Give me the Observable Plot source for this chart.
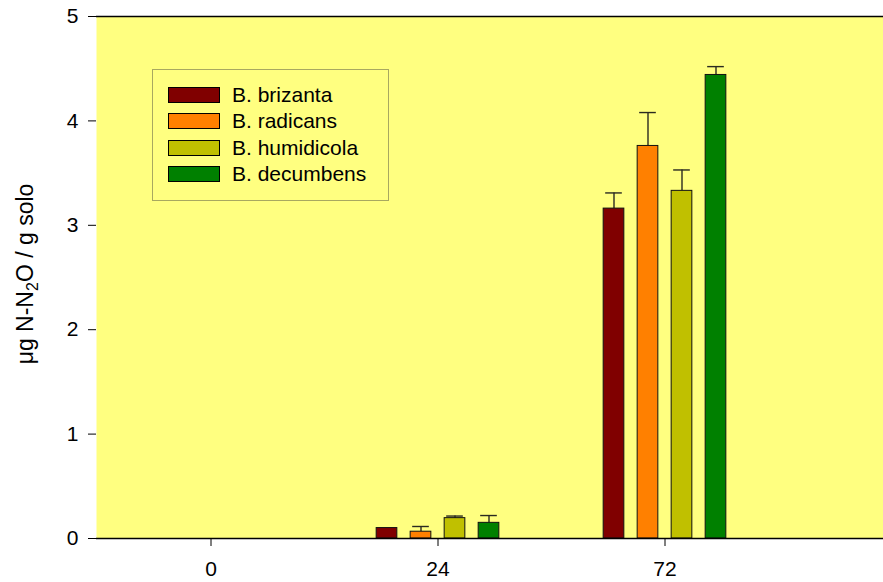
<!DOCTYPE html>
<html>
<head>
<meta charset="utf-8">
<script src="https://cdn.jsdelivr.net/npm/d3@7"></script>
<script src="https://cdn.jsdelivr.net/npm/@observablehq/plot@0.6"></script>
<style>
  body { margin: 0; background: #fff; }
  #chart { position: relative; width: 883px; height: 582px; font-family: "Liberation Sans", Arial, sans-serif; }
  .legend { position: absolute; left: 152px; top: 69px; width: 237px; height: 132px; box-sizing: border-box;
            border: 1.5px solid #a8a860; padding: 12px 0 0 15px; }
  .legend .row { display: flex; align-items: center; height: 26.3px; font-size: 21px; color: #000; }
  .legend .sw { width: 50px; height: 14px; border: 1px solid #000; margin-right: 12px; }
</style>
</head>
<body>
<div id="chart"></div>
<script>
// Sampling times (hours) and grass species
const hours = ["0", "24", "72"];
const species = ["B. brizanta", "B. radicans", "B. humidicola", "B. decumbens"];
const colors = ["#800000", "#FF8000", "#C0C000", "#008000"];

// Mean N-N2O (µg / g soil) per species at 0, 24 and 72 h
const brizanta   = [0, 0.10, 3.16];
const radicans   = [0, 0.065, 3.76];
const humidicola = [0, 0.195, 3.33];
const decumbens  = [0, 0.15, 4.44];

// Standard errors (upper whisker only)
const brizantaErr   = [0, 0, 0.15];
const radicansErr   = [0, 0.05, 0.32];
const humidicolaErr = [0, 0.02, 0.20];
const decumbensErr  = [0, 0.07, 0.08];

const yTicks = [0, 1, 2, 3, 4, 5];

const means = [brizanta, radicans, humidicola, decumbens];
const errs = [brizantaErr, radicansErr, humidicolaErr, decumbensErr];

const series = species.map((name, i) =>
  hours.map((h, j) => ({ hour: h, species: name, value: means[i][j], err: errs[i][j] }))
);

const bandStep = 682 / hours.length;   // width of one time group
const barW = 21, barGap = 34, capW = 17;

const marks = [
  Plot.frame({ fill: "#FFFF80", stroke: null }),
  Plot.ruleY([5], { stroke: "#000", strokeWidth: 1.5 }),
];

series.forEach((rows, i) => {
  const off = (i - 1.5) * barGap;
  const withBar = rows.filter(d => d.value > 0);
  const withErr = rows.filter(d => d.err > 0);
  marks.push(
    Plot.ruleX(withErr, { x: "hour", y1: "value", y2: d => d.value + d.err, dx: off, stroke: "#2a2a20", strokeWidth: 1.4 }),
    Plot.tickY(withErr, { x: "hour", y: d => d.value + d.err, dx: off,
      insetLeft: (bandStep - capW) / 2, insetRight: (bandStep - capW) / 2, stroke: "#2a2a20", strokeWidth: 1.4 }),
    Plot.barY(withBar, { x: "hour", y: "value", dx: off, fill: colors[i], stroke: "#111", strokeWidth: 1,
      insetLeft: (bandStep - barW) / 2, insetRight: (bandStep - barW) / 2 })
  );
});

marks.push(
  Plot.ruleY([0], { stroke: "#000", strokeWidth: 1.5 }),
  Plot.axisY(yTicks, { tickSize: 8, tickPadding: 10, fontSize: 21, tickFormat: d3.format("d"), label: null }),
  Plot.axisX({ tickSize: 8, tickPadding: 15, fontSize: 21, label: null })
);

const chart = Plot.plot({
  width: 883,
  height: 582,
  marginLeft: 96,
  marginRight: 0,
  marginTop: 16,
  marginBottom: 44,
  style: { fontFamily: "Liberation Sans, Arial, sans-serif", background: "#fff", color: "#000", overflow: "visible" },
  x: { type: "band", domain: hours, range: [96, 96 + 682], padding: 0, label: null },
  y: { domain: [0, 5], line: true, label: null },
  marks
});

// rotated y-axis title with subscript
const svg = d3.select(chart);
const t = svg.append("text")
  .attr("transform", "translate(33,274) rotate(-90)")
  .attr("text-anchor", "middle")
  .attr("font-size", 23)
  .attr("font-family", "Liberation Sans, Arial, sans-serif")
  .attr("fill", "#000");
t.append("tspan").text("\u03bcg N-N");
t.append("tspan").attr("dy", 5).attr("font-size", 16).text("2");
t.append("tspan").attr("dy", -5).text("O / g solo");

const root = document.getElementById("chart");
root.appendChild(chart);

// legend box
const legend = document.createElement("div");
legend.className = "legend";
species.forEach((name, i) => {
  const row = document.createElement("div");
  row.className = "row";
  const sw = document.createElement("span");
  sw.className = "sw";
  sw.style.background = colors[i];
  const lab = document.createElement("span");
  lab.textContent = name;
  row.appendChild(sw);
  row.appendChild(lab);
  legend.appendChild(row);
});
root.appendChild(legend);
</script>
</body>
</html>
